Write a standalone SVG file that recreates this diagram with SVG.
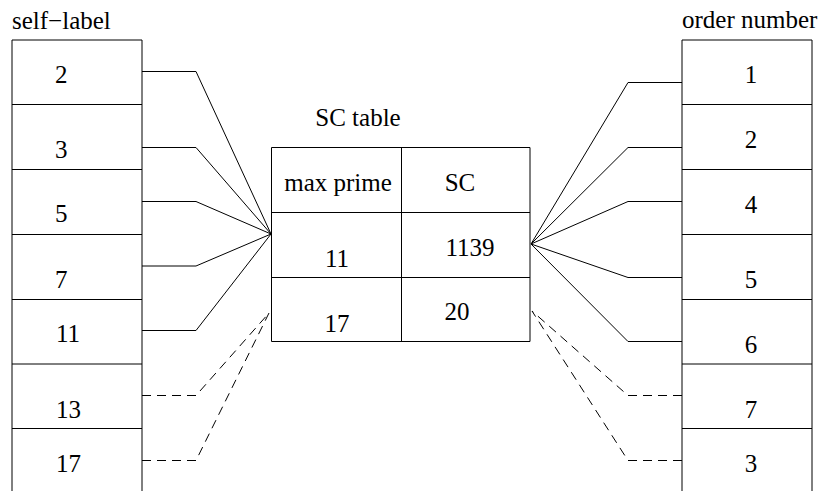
<svg xmlns="http://www.w3.org/2000/svg" width="827" height="491" viewBox="0 0 827 491">
  <style>
    .ln { stroke: #000; stroke-width: 1; fill: none; }
    .dash { stroke: #000; stroke-width: 1; fill: none; stroke-dasharray: 9 6; }
    text { font-family: "Liberation Serif", "Times New Roman", serif; font-size: 25px; fill: #000; }
    .c { text-anchor: middle; }
  </style>
  <rect width="827" height="491" fill="#fff"/>

  <!-- left column: self-label -->
  <g id="self-label">
    <text x="12" y="29">self−label</text>
    <path class="ln" d="M12 491 V40 H142 V491 M12 104.5 H142 M12 169.5 H142 M12 234.5 H142 M12 299.5 H142 M12 364 H142 M12 428.5 H142"/>
    <text x="55" y="83">2</text>
    <text x="55" y="158">3</text>
    <text x="55" y="222">5</text>
    <text x="55" y="288">7</text>
    <text x="56" y="342">11</text>
    <text x="56" y="418">13</text>
    <text x="56" y="472">17</text>
  </g>

  <!-- SC table -->
  <g id="sc-table">
    <text class="c" x="358" y="126">SC table</text>
    <path class="ln" d="M271.5 147.5 H530 V341.5 H271.5 Z M271.5 212.5 H530 M271.5 277.5 H530 M401.5 147.5 V341.5"/>
    <text class="c" x="338" y="191">max prime</text>
    <text class="c" x="460" y="191">SC</text>
    <text class="c" x="337" y="267">11</text>
    <text class="c" x="470" y="256">1139</text>
    <text class="c" x="337" y="332">17</text>
    <text class="c" x="457" y="320">20</text>
  </g>

  <!-- right column: order number -->
  <g id="order-number">
    <text x="682" y="28">order number</text>
    <path class="ln" d="M682 491 V40 H812 V491 M682 104.5 H812 M682 169.5 H812 M682 234.5 H812 M682 299.5 H812 M682 364 H812 M682 428.5 H812"/>
    <text class="c" x="751" y="83">1</text>
    <text class="c" x="751" y="148">2</text>
    <text class="c" x="751" y="213">4</text>
    <text class="c" x="751" y="288">5</text>
    <text class="c" x="751" y="353">6</text>
    <text class="c" x="751" y="418">7</text>
    <text class="c" x="751" y="472">3</text>
  </g>

  <!-- connectors -->
  <g id="connectors">
    <path class="ln" d="M142 71.5 H196 L271 234"/>
    <path class="ln" d="M142 147.5 H196 L271 234"/>
    <path class="ln" d="M142 201.5 H196 L271 234"/>
    <path class="ln" d="M142 266 H196 L271 234"/>
    <path class="ln" d="M142 330.5 H196 L271 234"/>
    <path class="dash" d="M142 395.5 H196 L269 313"/>
    <path class="dash" d="M142 460.5 H196 L269 313"/>
    <path class="ln" d="M682 82.5 H628 L531 244"/>
    <path class="ln" d="M682 147.5 H628 L531 244"/>
    <path class="ln" d="M682 201.5 H628 L531 244"/>
    <path class="ln" d="M682 277.5 H628 L531 244"/>
    <path class="ln" d="M682 341.5 H628 L531 244"/>
    <path class="dash" d="M682 395.5 H628 L532 311"/>
    <path class="dash" d="M682 460.5 H628 L532 311"/>
  </g>
</svg>
